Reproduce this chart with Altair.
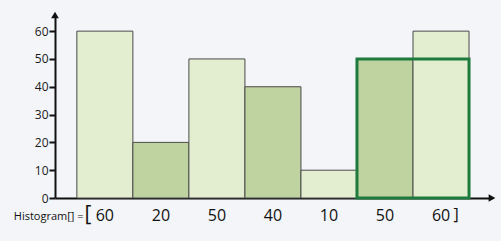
import altair as alt
import pandas as pd

values = [60, 20, 50, 40, 10, 50, 60]
shades = ["light", "dark", "light", "dark", "light", "dark", "light"]
labels = ["60", "20", "50", "40", "10", "50", "60"]
y_ticks = [0, 10, 20, 30, 40, 50, 60]
highlight_start, highlight_end, highlight_value = 5, 7, 50

X_MIN, X_MAX = -0.39, 7.41
Y_MAX = 65.8

bars = pd.DataFrame({
    "i": list(range(len(values))),
    "i2": [i + 1 for i in range(len(values))],
    "c": [i + 0.5 for i in range(len(values))],
    "v": values,
    "shade": shades,
    "label": labels,
})

xs = alt.Scale(domain=[X_MIN, X_MAX], nice=False, zero=False)
ys = alt.Scale(domain=[0, Y_MAX], nice=False)

x_axis = alt.Axis(title=None, labels=False, ticks=False, grid=False,
                  domainColor="#111", domainWidth=2)
y_axis = alt.Axis(title=None, values=y_ticks, grid=False,
                  domainColor="#111", domainWidth=2,
                  tickColor="#111", tickWidth=2, tickSize=6,
                  labelFontSize=12, labelColor="#1a1a1a",
                  labelFont="Open Sans", labelPadding=1,
                  labelOverlap=False, labelFontWeight=500)

base = alt.Chart(bars)

rects = base.mark_rect(stroke="#4a4a4a", strokeWidth=1).encode(
    x=alt.X("i:Q", scale=xs, axis=x_axis),
    x2="i2:Q",
    y=alt.Y("v:Q", scale=ys, axis=y_axis),
    y2=alt.datum(0),
    fill=alt.Fill("shade:N", scale=alt.Scale(domain=["light", "dark"],
                                             range=["#e3edcf", "#bfd3a0"]), legend=None),
)

hl = alt.Chart(pd.DataFrame({"a": [highlight_start], "b": [highlight_end], "v": [highlight_value]})).mark_rect(
    fill=None, stroke="#1f7a3d", strokeWidth=3
).encode(x=alt.X("a:Q", scale=xs, axis=x_axis), x2="b:Q",
         y=alt.Y("v:Q", scale=ys, axis=y_axis), y2=alt.datum(0))

nums = base.mark_text(fontSize=16, font="Open Sans", color="#111", baseline="middle").encode(
    x=alt.X("c:Q", scale=xs, axis=x_axis), y=alt.value(201), text="label:N"
)

extra = pd.DataFrame({
    "x": [0.12, 0.2, 6.77],
    "t": ["Histogram[] =", "[", "]"],
})
prefix = alt.Chart(extra.iloc[[0]]).mark_text(fontSize=11, font="Open Sans", color="#111",
                                              align="right", baseline="middle", fontWeight=500).encode(
    x=alt.X("x:Q", scale=xs, axis=x_axis), y=alt.value(202), text="t:N")
bracket_l = alt.Chart(extra.iloc[[1]]).mark_text(fontSize=21, font="Open Sans", color="#111",
                                                 baseline="middle").encode(
    x=alt.X("x:Q", scale=xs, axis=x_axis), y=alt.value(200), text="t:N")
bracket_r = alt.Chart(extra.iloc[[2]]).mark_text(fontSize=16, font="Open Sans", color="#111",
                                                 baseline="middle").encode(
    x=alt.X("x:Q", scale=xs, axis=x_axis), y=alt.value(200), text="t:N")

arrow_up = alt.Chart(pd.DataFrame({"x": [X_MIN], "y": [Y_MAX]})).mark_point(
    shape="triangle-up", filled=True, color="#111", size=60, opacity=1
).encode(x=alt.X("x:Q", scale=xs, axis=x_axis), y=alt.Y("y:Q", scale=ys, axis=y_axis))
arrow_right = alt.Chart(pd.DataFrame({"x": [X_MAX], "y": [0]})).mark_point(
    shape="triangle-right", filled=True, color="#111", size=60, opacity=1
).encode(x=alt.X("x:Q", scale=xs, axis=x_axis), y=alt.Y("y:Q", scale=ys, axis=y_axis))

chart = alt.layer(rects, hl, nums, prefix, bracket_l, bracket_r, arrow_up, arrow_right).properties(
    width=437, height=183,
    autosize=alt.AutoSizeParams(type="none"),
    padding={"left": 55, "top": 15, "right": 9, "bottom": 43},
    background="#f3f5f8",
).configure_view(stroke=None)

chart.save("out.html", embed_options={"renderer": "svg", "actions": False})
